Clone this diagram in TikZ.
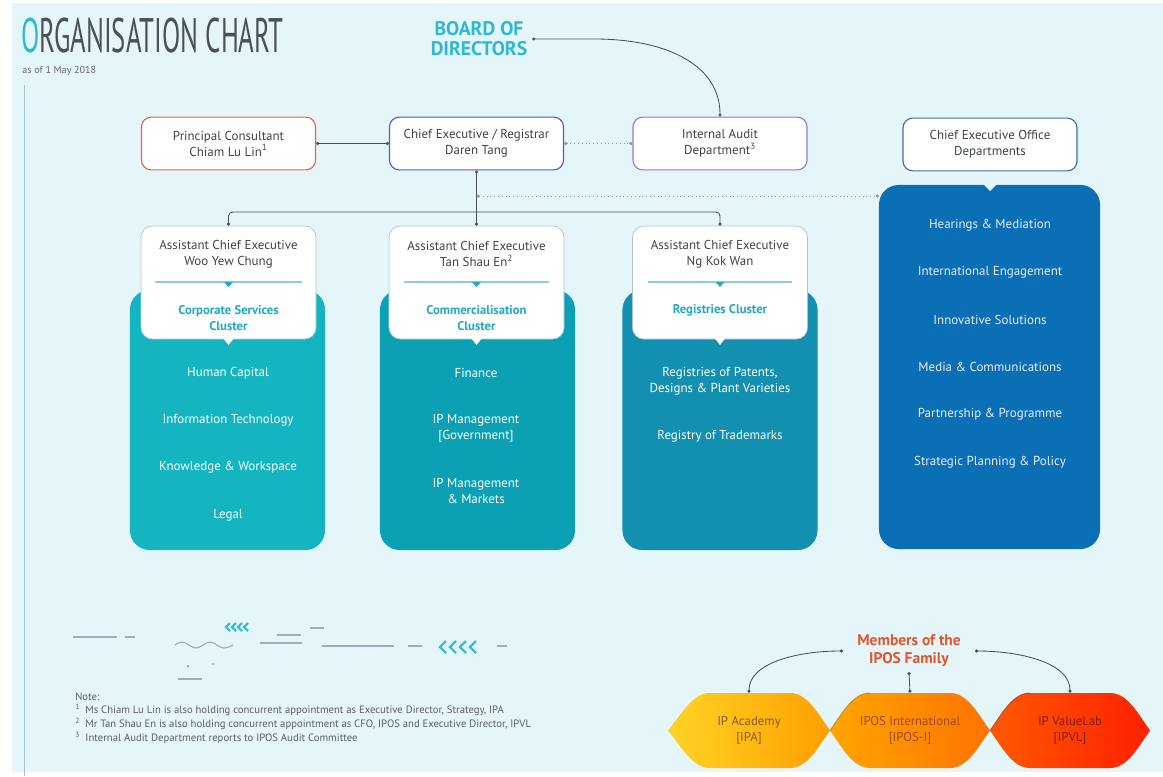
\documentclass[tikz,border=0pt]{standalone}
\usepackage{fontspec}
\setmainfont{PT Sans}
\newfontfamily\condfont[FakeStretch=0.55]{PT Sans}
\usetikzlibrary{arrows.meta, positioning, calc}

\definecolor{bgC}{HTML}{E5F6FB}
\definecolor{titleC}{HTML}{4B5157}
\definecolor{cyanC}{HTML}{2DB9D2}
\definecolor{textC}{HTML}{3E4349}
\definecolor{lineC}{HTML}{4A4F55}
\definecolor{dotC}{HTML}{8E9AA3}
\definecolor{clusA}{HTML}{14B4C0}
\definecolor{clusB}{HTML}{0CA0B4}
\definecolor{clusC}{HTML}{138FB0}
\definecolor{ceoC}{HTML}{0B6FB6}
\definecolor{pcC}{HTML}{E8643C}
\definecolor{ceC}{HTML}{5E54C8}
\definecolor{iaC}{HTML}{8C7ACB}
\definecolor{cdC}{HTML}{3F6F9A}
\definecolor{headC}{HTML}{A9C4CF}
\definecolor{ctitC}{HTML}{20A9C3}
\definecolor{sepC}{HTML}{8FCFDB}
\definecolor{famC}{HTML}{E2552B}
\definecolor{decoC}{HTML}{9AAEBB}
\definecolor{chevC}{HTML}{3BBBD6}
\definecolor{acadT}{HTML}{8A5A1E}
\definecolor{ipiT}{HTML}{9A4A14}
\definecolor{ipvlT}{HTML}{7A1E0E}

\begin{document}
\begin{tikzpicture}[
        x=0.025cm, y=-0.025cm,
        dots/.style ={{Circle[length=2.2pt]}-{Circle[length=2.2pt]}},
        link/.style ={draw=lineC, line width=0.6pt},
        dotl/.style ={draw=dotC, line width=0.7pt, dotted},
        top/.style  ={draw, fill=white, rounded corners=7pt, line width=0.8pt,
                minimum width=4.35cm, minimum height=1.32cm, align=center,
                text=textC, font=\fontsize{9.2}{11.4}\selectfont},
        clus/.style ={rounded corners=14pt, minimum width=4.875cm, minimum height=6.5cm},
        head/.style ={draw=headC, fill=white, rounded corners=8pt, line width=0.5pt,
                minimum width=4.375cm, minimum height=2.825cm},
        who/.style  ={align=center, text=textC, font=\fontsize{9.2}{11.4}\selectfont},
        ctit/.style ={align=center, text=ctitC, font=\bfseries\fontsize{9}{11.4}\selectfont},
        item/.style ={align=center, text=white, font=\fontsize{9.2}{11.4}\selectfont},
        ceoitem/.style={item, text=blue!8},
        sep/.style  ={draw=sepC, line width=1pt},
        rib/.style  ={align=center, minimum width=4.05cm, minimum height=1.875cm,
                font=\fontsize{9.1}{11}\selectfont},
        note/.style ={anchor=base west, inner sep=0pt, text=textC!85,
                font=\fontsize{7.6}{8}\selectfont},
        deco/.style ={draw=decoC, line width=0.8pt},
        chev/.style ={draw=chevC, line width=1.6pt}
    ]

    %% ---- canvas ------------------------------------------------------------
    \useasboundingbox (0,0) rectangle (1163,776);
    \fill[white] (0,0) rectangle (1163,776);
    \fill[bgC] (12,3) rectangle (1163,772);
    \draw[draw=headC, line width=0.6pt] (24,85) -- (24,776);

    %% ---- title -------------------------------------------------------------
    \node[anchor=base west, inner sep=0pt, text=titleC,
        font=\condfont\fontsize{34.5}{36}\selectfont] (title) at (21,52)
        {\textcolor{cyanC}{O}RGANISATION CHART};
    \node[anchor=base west, inner sep=0pt, text=textC!80,
        font=\fontsize{7.2}{8}\selectfont] (asof) at (22,73) {as of 1 May 2018};
    \node[align=center, text=cyanC, font=\bfseries\fontsize{14}{14.2}\selectfont]
        (board) at (479,39) {BOARD OF\\DIRECTORS};

    %% ---- top row -----------------------------------------------------------
    \node[top, draw=pcC] (pc)  at (228.5,143.5) {Principal Consultant\\Chiam Lu Lin\textsuperscript{1}};
    \node[top, draw=ceC] (ce)  at (476.5,143.5) {Chief Executive / Registrar\\Daren Tang};
    \node[top, draw=iaC] (ia)  at (720,143.5)   {Internal Audit\\Department\textsuperscript{3}};

    %% ---- clusters (coloured backs) -----------------------------------------
    \node[clus, fill=clusA] (cl1) at (227.5,420) {};
    \node[clus, fill=clusB] (cl2) at (477.5,420) {};
    \node[clus, fill=clusC] (cl3) at (720,420)   {};
    \node[clus, fill=ceoC, minimum width=5.525cm, minimum height=9.1cm] (cdb) at (989.5,367) {};
    \fill[bgC] (983,184) -- (997,184) -- (990,191) -- cycle;
    \node[top, draw=cdC] (cod) at (990,144.5) {Chief Executive Office\\Departments};

    %% ---- cluster heads -----------------------------------------------------
    \node[head] (h1) at (228.5,282.5) {};
    \node[head] (h2) at (476.5,282.5) {};
    \node[head] (h3) at (720,282.5)   {};
    \draw[sep] (155,282) -- (302,282);
    \draw[sep] (404,282) -- (549,282);
    \draw[sep] (648,282) -- (792,282);
    \fill[ctitC] (224,282) -- (233,282) -- (228.5,287) -- cycle;
    \fill[ctitC] (472,282) -- (481,282) -- (476.5,287) -- cycle;
    \fill[ctitC] (715.5,282) -- (724.5,282) -- (720,287) -- cycle;
    \fill[white] (223,338) -- (234,338) -- (228.5,345) -- cycle;
    \fill[white] (471,338) -- (482,338) -- (476.5,345) -- cycle;
    \fill[white] (714.5,338) -- (725.5,338) -- (720,345) -- cycle;

    \node[who]  (n1) at (228.5,254) {Assistant Chief Executive\\Woo Yew Chung};
    \node[who]  (n2) at (476.5,254) {Assistant Chief Executive\\Tan Shau En\textsuperscript{2}};
    \node[who]  (n3) at (720,254)   {Assistant Chief Executive\\Ng Kok Wan};
    \node[ctit] (t1) at (228.5,318) {Corporate Services\\Cluster};
    \node[ctit] (t2) at (476.5,318) {Commercialisation\\Cluster};
    \node[ctit] (t3) at (720,310)   {Registries Cluster};

    %% ---- cluster contents --------------------------------------------------
    \node[item] (i11) at (228,373) {Human Capital};
    \node[item] (i12) at (228,420) {Information Technology};
    \node[item] (i13) at (228,467) {Knowledge \& Workspace};
    \node[item] (i14) at (228,515) {Legal};
    \node[item] (i21) at (476,373) {Finance};
    \node[item] (i22) at (476,428) {IP Management\\{[Government]}};
    \node[item] (i23) at (476,491) {IP Management\\\& Markets};
    \node[item] (i31) at (720,381) {Registries of Patents,\\Designs \& Plant Varieties};
    \node[item] (i32) at (720,436) {Registry of Trademarks};
    \node[ceoitem] (c1) at (990,225) {Hearings \& Mediation};
    \node[ceoitem] (c2) at (990,272) {International Engagement};
    \node[ceoitem] (c3) at (990,320) {Innovative Solutions};
    \node[ceoitem] (c4) at (990,367) {Media \& Communications};
    \node[ceoitem] (c5) at (990,414) {Partnership \& Programme};
    \node[ceoitem] (c6) at (990,462) {Strategic Planning \& Policy};

    %% ---- reporting lines ---------------------------------------------------
    \draw[link, dots] (pc.east) -- (ce.west);
    \draw[dotl, dots] (ce.east) -- (ia.west);
    \draw[link, dots] (board.east) -- ++(62,0)
        .. controls +(75,0) and +(0,-50) .. (ia.north);
    \draw[link, dots] (ce.south) -- (h2.north);
    \coordinate (br) at (476.5,212);
    \draw[link, rounded corners=3pt, dots] (h1.north) -- (h1.north |- br)
        -- (h3.north |- br) -- (h3.north);
    \coordinate (tap)  at (476.5,196);
    \coordinate (cdin) at (879,196);
    \draw[dotl, dots] (tap) -- (cdin);

    %% ---- IPOS family -------------------------------------------------------
    \shade[left color=yellow!60!orange!85, right color=orange!75!yellow]
        (668,730.5) .. controls (683,712) and (693,693) .. (710,693) -- (790,693)
        .. controls (807,693) and (817,712) .. (830,730.5)
        .. controls (817,749) and (807,768) .. (790,768) -- (710,768)
        .. controls (693,768) and (683,749) .. (668,730.5) -- cycle;
    \shade[left color=orange!70!yellow, right color=orange!90!red]
        (830,730.5) .. controls (843,712) and (853,693) .. (870,693) -- (950,693)
        .. controls (967,693) and (977,712) .. (990,730.5)
        .. controls (977,749) and (967,768) .. (950,768) -- (870,768)
        .. controls (853,768) and (843,749) .. (830,730.5) -- cycle;
    \shade[left color=red!30!orange, right color=red!75!orange]
        (990,730.5) .. controls (1003,712) and (1013,693) .. (1030,693) -- (1110,693)
        .. controls (1127,693) and (1137,712) .. (1150,730.5)
        .. controls (1137,749) and (1127,768) .. (1110,768) -- (1030,768)
        .. controls (1013,768) and (1003,749) .. (990,730.5) -- cycle;
    \draw[draw=orange!60!black, line width=0.6pt, opacity=0.5]
        (870,693) .. controls (853,693) and (843,712) .. (830,730.5);
    \draw[draw=red!60!black, line width=0.6pt, opacity=0.5]
        (1030,693) .. controls (1013,693) and (1003,712) .. (990,730.5);

    \node[rib, text=acadT] (acad) at (749,730.5)  {IP Academy\\{[IPA]}};
    \node[rib, text=ipiT]  (ipi)  at (910,730.5)  {IPOS International\\{[IPOS-I]}};
    \node[rib, text=ipvlT] (ipvl) at (1070,730.5) {IP ValueLab\\{[IPVL]}};

    \node[align=center, text=famC, inner xsep=10pt,
        font=\bfseries\fontsize{11}{12.8}\selectfont] (fam) at (909,651)
        {Members of the\\IPOS Family};
    \draw[link, dots] (fam.west) .. controls +(-45,0) and +(0,-30) .. (acad.north);
    \draw[link, dots] (fam.east) .. controls +(45,0) and +(0,-30) .. (ipvl.north);
    \draw[link, dots] (ipi.north) -- (fam.south);

    %% ---- stray marks (bottom left) -----------------------------------------
    \draw[deco] (73,637) -- (117,637) (125,637) -- (135,637);
    \draw[deco] (260,643) -- (302,643) (277,635) -- (301,635) (310,628) -- (324,628);
    \draw[deco] (322,646) -- (394,646) (408,646) -- (422,646) (497,646) -- (507,646);
    \draw[deco] (178,679) -- (202,679);
    \draw[deco] (175,645) sin (182,642) cos (189,645) sin (196,648) cos (203,645)
        sin (210,642) cos (217,645) sin (224,648) cos (233,645);
    \fill[decoC] (188,666) circle (1.5) (213,664) circle (1.2);
    \draw[chev] (230,623) -- (226,627) -- (230,631) (236,623) -- (232,627) -- (236,631)
        (242,623) -- (238,627) -- (242,631) (248,623) -- (244,627) -- (248,631);
    \draw[chev] (446,641) -- (440,647) -- (446,653) (456,641) -- (450,647) -- (456,653)
        (466,641) -- (460,647) -- (466,653) (476,641) -- (470,647) -- (476,653);

    %% ---- notes -------------------------------------------------------------
    \node[note] (note) at (75,700) {Note:};
    \node[note] (fn1)  at (75,713) {\textsuperscript{1}\enspace Ms Chiam Lu Lin is also holding concurrent appointment as Executive Director, Strategy, IPA};
    \node[note] (fn2)  at (75,727) {\textsuperscript{2}\enspace Mr Tan Shau En is also holding concurrent appointment as CFO, IPOS and Executive Director, IPVL};
    \node[note] (fn3)  at (75,741) {\textsuperscript{3}\enspace Internal Audit Department reports to IPOS Audit Committee};

\end{tikzpicture}
\end{document}
